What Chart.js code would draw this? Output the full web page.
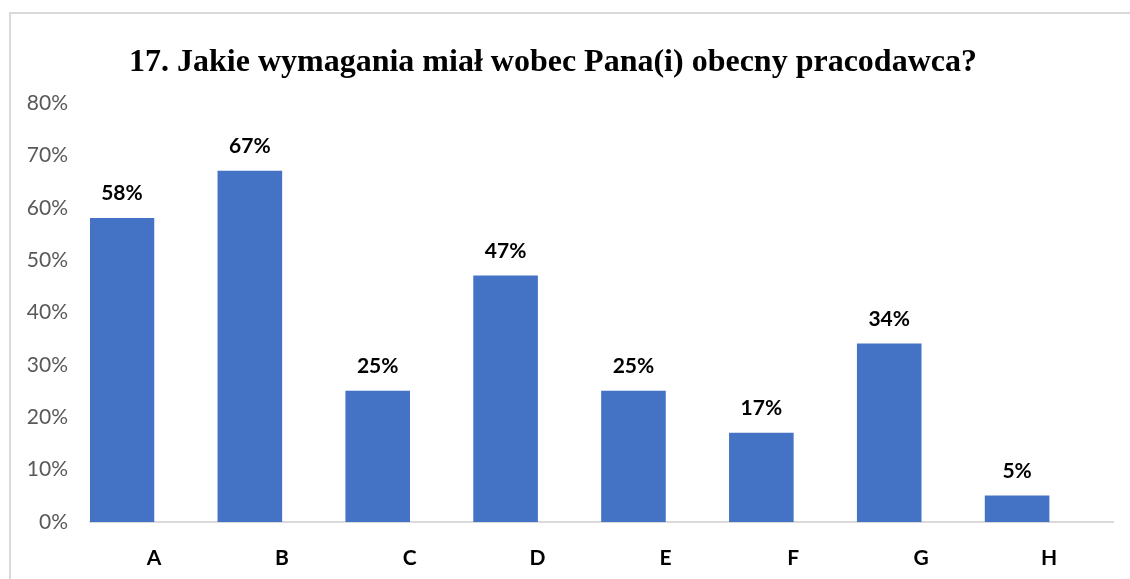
<!DOCTYPE html>
<html>
<head>
<meta charset="utf-8">
<script src="https://cdn.jsdelivr.net/npm/chart.js@4/dist/chart.umd.min.js"></script>
<style>
  html, body { margin: 0; padding: 0; background: #fff; }
  #wrap { position: relative; width: 1130px; height: 579px; }
  #frame { position: absolute; left: 9px; top: 12px; width: 1130px; height: 600px;
           border-top: 2px solid #d9d9d9; border-left: 2px solid #d9d9d9; box-sizing: border-box; }
  canvas { position: absolute; left: 0; top: 0; }
</style>
</head>
<body>
<div id="wrap">
  <div id="frame"></div>
  <canvas id="chartWymagania" width="1130" height="579"></canvas>
</div>
<script>
const tytul = '17. Jakie wymagania miał wobec Pana(i) obecny pracodawca?';
const kategorie = ['A', 'B', 'C', 'D', 'E', 'F', 'G', 'H'];
const procenty = [58, 67, 25, 47, 25, 17, 34, 5];
const pusta = [null, null, null, null, null, null, null, null]; // druga (pusta) seria jak w Excelu
const osY = [0, 10, 20, 30, 40, 50, 60, 70, 80];

// tytul rysowany recznie
const tytulPlugin = {
  id: 'tytul',
  afterDraw(chart) {
    const c = chart.ctx;
    c.save();
    c.font = 'bold 32px "Liberation Serif", "Times New Roman", serif';
    c.fillStyle = '#000';
    c.textAlign = 'center';
    c.textBaseline = 'middle';
    c.fillText(tytul, 553, 63);
    c.restore();
  }
};

// etykiety nad slupkami
const etykietyPlugin = {
  id: 'etykiety',
  afterDatasetsDraw(chart) {
    const c = chart.ctx;
    const meta = chart.getDatasetMeta(0);
    c.save();
    c.font = 'bold 21px Lato, "Open Sans", sans-serif';
    c.fillStyle = '#000';
    c.textAlign = 'center';
    c.textBaseline = 'middle';
    meta.data.forEach((bar, i) => {
      c.fillText(procenty[i] + '%', bar.x, bar.y - 25);
    });
    c.restore();
  }
};

const ctx = document.getElementById('chartWymagania').getContext('2d');
new Chart(ctx, {
  type: 'bar',
  data: {
    labels: kategorie,
    datasets: [
      { data: procenty, backgroundColor: '#4472C4', categoryPercentage: 1, barPercentage: 1 },
      { data: pusta, backgroundColor: '#ED7D31', categoryPercentage: 1, barPercentage: 1 }
    ]
  },
  options: {
    responsive: false,
    animation: false,
    layout: { padding: { left: 0, right: 17, top: 103, bottom: 0 } },
    plugins: {
      legend: { display: false },
      title: { display: false },
      tooltip: { enabled: false }
    },
    scales: {
      x: {
        grid: { display: false },
        border: { display: true, color: '#d9d9d9', width: 2 },
        ticks: { color: '#000', padding: 16, font: { family: 'Lato', size: 21, weight: 'bold' } },
        afterFit: s => { s.height = 57; }
      },
      y: {
        min: osY[0],
        max: osY[osY.length - 1],
        afterBuildTicks: s => { s.ticks = osY.map(v => ({ value: v })); },
        grid: { display: false },
        border: { display: false },
        ticks: { color: '#595959', padding: 14, font: { family: 'Lato', size: 21 }, callback: v => v + '%' },
        afterFit: s => { s.width = 90; }
      }
    }
  },
  plugins: [tytulPlugin, etykietyPlugin]
});
</script>
</body>
</html>
